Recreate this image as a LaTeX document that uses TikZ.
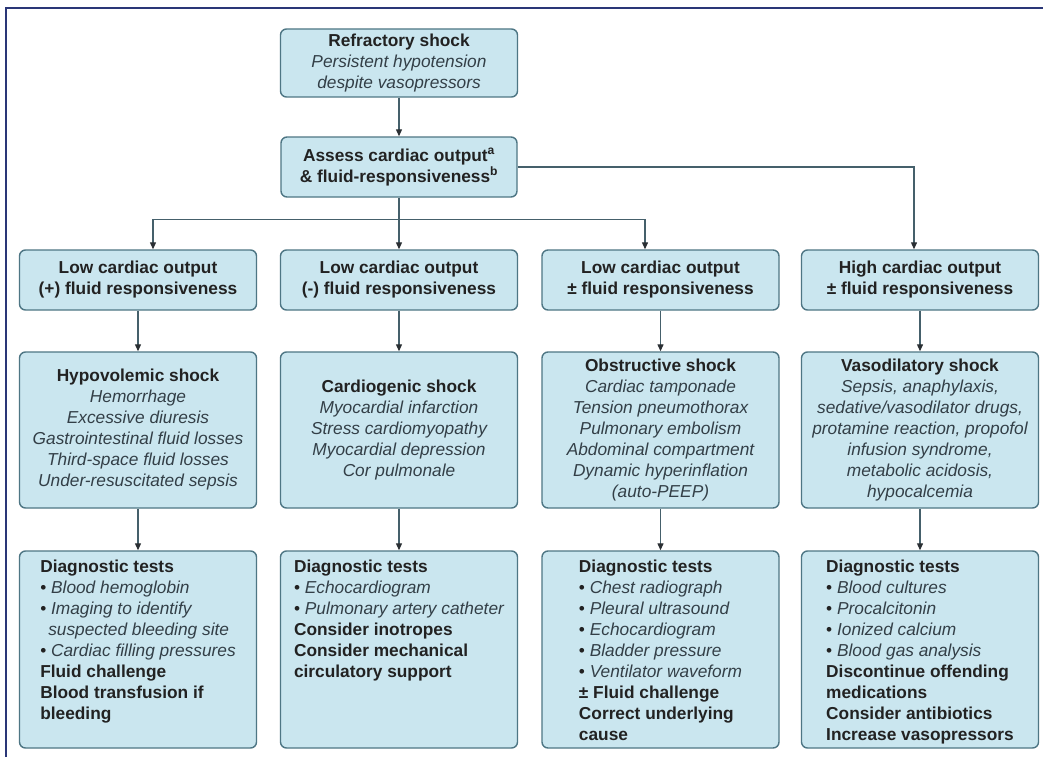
\documentclass[tikz,border=0pt]{standalone}
\usepackage{fontspec}
\setmainfont{Liberation Sans}
\usetikzlibrary{arrows.meta,calc}

\definecolor{boxfill}{HTML}{CAE6EF}
\definecolor{boxline}{HTML}{4E7684}
\definecolor{wire}{HTML}{45606B}
\definecolor{tipcol}{HTML}{2A2F33}
\definecolor{hdtext}{HTML}{222222}
\definecolor{ittext}{HTML}{333F47}
\definecolor{framecol}{HTML}{2A3677}

% bold heading line and italic item line
\newcommand\hd[1]{\textbf{#1}}
\newcommand\itm[1]{{\color{ittext}\itshape #1}}
\newcommand\bul[1]{\textbullet\ \itm{#1}}

\tikzset{
  box/.style={draw=boxline, line width=1.4pt, fill=boxfill, rounded corners=6pt,
    minimum width=237pt, inner sep=0pt, align=center,
    font=\fontsize{17.3}{21}\selectfont, text=hdtext},
  arr/.style={draw=wire, line width=1.2pt,
    -{Triangle[length=7pt,width=6pt,color=tipcol]}},
  listtext/.style={align=left, inner sep=0pt, anchor=north,
    font=\fontsize{17.3}{21}\selectfont, text=hdtext},
}

\begin{document}
\begin{tikzpicture}[x=1pt,y=-1pt]
\useasboundingbox (0,0) rectangle (1043,757);
\fill[white] (0,0) rectangle (1043,757);

% page frame
\draw[framecol, line width=2pt] (6,757) -- (6,8) -- (1043,8);

% top of the chart
\node[box, minimum height=68pt] (top) at (399,63)
  {\hd{Refractory shock}\\\itm{Persistent hypotension}\\\itm{despite vasopressors}};
\node[box, minimum height=60pt, minimum width=236pt] (assess) at (399,167)
  {\hd{Assess cardiac output\textsuperscript{a}}\\\hd{\& fluid-responsiveness\textsuperscript{b}}};

% cardiac output / fluid responsiveness categories
\node[box, minimum height=60pt] (lc1) at (138,280)
  {\hd{Low cardiac output}\\\hd{(+) fluid responsiveness}};
\node[box, minimum height=60pt] (lc2) at (399,280)
  {\hd{Low cardiac output}\\\hd{(-) fluid responsiveness}};
\node[box, minimum height=60pt] (lc3) at (660.5,280)
  {\hd{Low cardiac output}\\\hd{± fluid responsiveness}};
\node[box, minimum height=60pt] (hc4) at (920,280)
  {\hd{High cardiac output}\\\hd{± fluid responsiveness}};

% shock types
\node[box, minimum height=156pt] (hyp) at (138,430)
  {\hd{Hypovolemic shock}\\\itm{Hemorrhage}\\\itm{Excessive diuresis}\\
   \itm{Gastrointestinal fluid losses}\\\itm{Third-space fluid losses}\\
   \itm{Under-resuscitated sepsis}};
\node[box, minimum height=156pt] (card) at (399,430)
  {\hd{Cardiogenic shock}\\\itm{Myocardial infarction}\\\itm{Stress cardiomyopathy}\\
   \itm{Myocardial depression}\\\itm{Cor pulmonale}};
\node[box, minimum height=156pt] (obs) at (660.5,430)
  {\hd{Obstructive shock}\\\itm{Cardiac tamponade}\\\itm{Tension pneumothorax}\\
   \itm{Pulmonary embolism}\\\itm{Abdominal compartment}\\
   \itm{Dynamic hyperinflation}\\\itm{(auto-PEEP)}};
\node[box, minimum height=156pt] (vaso) at (920,430)
  {\hd{Vasodilatory shock}\\\itm{Sepsis, anaphylaxis,}\\\itm{sedative/vasodilator drugs,}\\
   \itm{protamine reaction, propofol}\\\itm{infusion syndrome,}\\
   \itm{metabolic acidosis,}\\\itm{hypocalcemia}};

% diagnostic tests and management
\node[box, minimum height=197pt] (dx1) at (138,649.5) {};
\node[box, minimum height=197pt] (dx2) at (399,649.5) {};
\node[box, minimum height=197pt] (dx3) at (660.5,649.5) {};
\node[box, minimum height=197pt] (dx4) at (920,649.5) {};

\node[listtext] (dx1t) at ([yshift=-9pt]dx1.north)
  {\hd{Diagnostic tests}\\\bul{Blood hemoglobin}\\\bul{Imaging to identify}\\
   \hspace*{8pt}\itm{suspected bleeding site}\\\bul{Cardiac filling pressures}\\
   \hd{Fluid challenge}\\\hd{Blood transfusion if}\\\hd{bleeding}};
\node[listtext] (dx2t) at ([yshift=-9pt]dx2.north)
  {\hd{Diagnostic tests}\\\bul{Echocardiogram}\\\bul{Pulmonary artery catheter}\\
   \hd{Consider inotropes}\\\hd{Consider mechanical}\\\hd{circulatory support}};
\node[listtext] (dx3t) at ([yshift=-9pt]dx3.north)
  {\hd{Diagnostic tests}\\\bul{Chest radiograph}\\\bul{Pleural ultrasound}\\
   \bul{Echocardiogram}\\\bul{Bladder pressure}\\\bul{Ventilator waveform}\\
   \hd{± Fluid challenge}\\\hd{Correct underlying}\\\hd{cause}};
\node[listtext] (dx4t) at ([yshift=-9pt]dx4.north)
  {\hd{Diagnostic tests}\\\bul{Blood cultures}\\\bul{Procalcitonin}\\
   \bul{Ionized calcium}\\\bul{Blood gas analysis}\\
   \hd{Discontinue offending}\\\hd{medications}\\\hd{Consider antibiotics}\\
   \hd{Increase vasopressors}};

% connectors
\coordinate (split) at ([yshift=-22pt]assess.south);
\draw[arr] (top) -- (assess);
\draw[arr] (assess.south) -- (lc2.north);
\draw[arr] (split) -| ([xshift=15pt]lc1.north);
\draw[arr] (split) -| ([xshift=-15.5pt]lc3.north);
\draw[arr] (assess.east) -| ([xshift=-6pt]hc4.north);

\draw[arr] (lc1) -- (hyp);
\draw[arr] (lc2) -- (card);
\draw[arr] (lc3) -- (obs);
\draw[arr] (hc4) -- (vaso);

\draw[arr] (hyp) -- (dx1);
\draw[arr] (card) -- (dx2);
\draw[arr] (obs) -- (dx3);
\draw[arr] (vaso) -- (dx4);
\end{tikzpicture}
\end{document}
